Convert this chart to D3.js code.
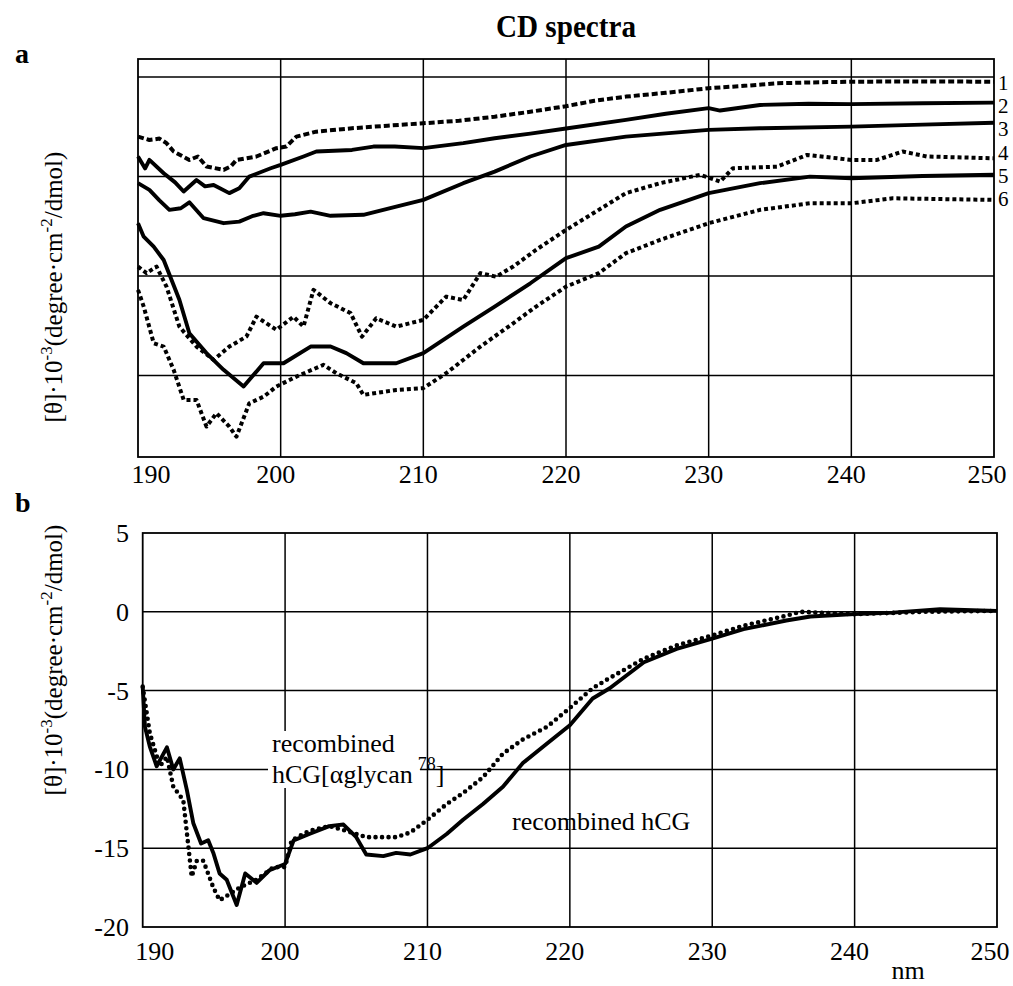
<!DOCTYPE html>
<html><head><meta charset="utf-8">
<script src="https://cdn.jsdelivr.net/npm/d3@7"></script>
<style>body{margin:0;background:#fff}svg{display:block}text{font-family:"Liberation Serif","Times New Roman",serif;fill:#000}</style>
</head><body><svg id="c" width="1013" height="986"></svg>
<script>
// ---------- DATA ----------
const xTicks = [190, 200, 210, 220, 230, 240, 250];
const gridA = [0, -5, -10, -15];
const yTicksB = [5, 0, -5, -10, -15, -20];
const curveLabels = ["1", "2", "3", "4", "5", "6"];

// panel a (offset spectra, arbitrary units)
const curve1 = [[190,-3.0],[190.8,-3.17],[191.5,-3.1],[192.0,-3.33],[192.5,-3.75],[193.6,-4.17],[194.2,-4.0],[194.8,-4.5],[196.0,-4.67],[196.5,-4.5],[196.9,-4.17],[198.3,-4.0],[199.7,-3.58],[200.4,-3.5],[201.1,-3.0],[202.5,-2.75],[205.0,-2.58],[207.5,-2.45],[210,-2.33],[212.5,-2.2],[215,-2.0],[217.5,-1.75],[220,-1.47],[222,-1.2],[224.2,-0.99],[227,-0.8],[230,-0.57],[232.5,-0.45],[234.8,-0.32],[237,-0.28],[240,-0.24],[245,-0.23],[250,-0.24]];
const curve2 = [[190,-4.0],[190.5,-4.6],[190.8,-4.17],[191.8,-4.84],[192.6,-5.3],[193.2,-5.76],[194.1,-5.18],[194.7,-5.5],[195.3,-5.43],[196.4,-5.84],[197.1,-5.6],[197.8,-5.01],[199.3,-4.59],[200,-4.42],[201.6,-4.0],[202.5,-3.75],[205,-3.67],[206.5,-3.5],[208,-3.5],[210,-3.58],[212.8,-3.33],[215,-3.08],[217.5,-2.85],[220,-2.59],[224.2,-2.16],[227,-1.85],[230,-1.57],[230.8,-1.69],[233.6,-1.41],[237,-1.35],[240,-1.37],[245,-1.32],[250,-1.29]];
const curve3 = [[190,-5.34],[190.8,-5.68],[191.5,-6.2],[192.2,-6.68],[193.0,-6.6],[193.6,-6.3],[194.6,-7.1],[196.0,-7.35],[197.1,-7.27],[198.0,-7.0],[198.8,-6.85],[200,-6.98],[201.0,-6.9],[202.1,-6.77],[203.5,-6.98],[205.8,-6.93],[208.1,-6.52],[210,-6.18],[212.8,-5.34],[215,-4.76],[217.5,-4.0],[220,-3.42],[224.2,-3.0],[230,-2.66],[233.6,-2.58],[240,-2.5],[245,-2.4],[250,-2.3]];
const curve4 = [[190,-9.53],[190.6,-9.86],[191.3,-9.53],[192.0,-10.54],[192.9,-12.55],[194.1,-13.55],[195.3,-14.22],[196.4,-13.55],[197.6,-13.05],[198.3,-12.05],[199.7,-12.71],[200.9,-12.05],[201.6,-12.55],[202.3,-10.7],[203.5,-11.37],[204.9,-11.87],[205.7,-13.05],[206.7,-12.13],[208.1,-12.55],[210,-12.21],[211.6,-11.04],[212.8,-11.21],[214.0,-9.86],[215.1,-10.04],[216.3,-9.53],[217.9,-8.69],[220,-7.69],[222.3,-6.68],[224.2,-5.84],[226.6,-5.34],[229.4,-4.92],[230.8,-5.26],[231.7,-4.59],[234.8,-4.51],[236.9,-3.92],[240,-4.17],[241.8,-4.17],[243.6,-3.75],[245.3,-4.0],[250,-4.09]];
const curve5 = [[190,-7.35],[190.4,-8.03],[191.1,-8.53],[191.8,-9.2],[192.9,-11.2],[193.6,-12.88],[194.8,-13.88],[196.0,-14.72],[197.4,-15.56],[198.8,-14.39],[200.2,-14.39],[202.1,-13.55],[203.5,-13.55],[204.6,-13.88],[205.8,-14.39],[208.1,-14.39],[210,-13.88],[212.8,-12.55],[215,-11.54],[217.5,-10.37],[220,-9.11],[222.3,-8.53],[224.2,-7.52],[226.6,-6.68],[230,-5.84],[233.6,-5.34],[237.1,-5.01],[240,-5.09],[245,-4.98],[250,-4.92]];
const curve6 = [[190,-10.7],[190.4,-11.54],[191.1,-13.38],[191.8,-13.55],[192.5,-14.72],[193.2,-16.23],[194.1,-16.23],[194.8,-17.57],[195.5,-16.9],[196.4,-17.57],[196.9,-18.08],[197.8,-16.4],[198.8,-16.07],[199.7,-15.56],[201.1,-15.06],[203.0,-14.47],[203.9,-14.89],[205.3,-15.39],[205.8,-15.98],[208.1,-15.73],[210,-15.64],[211.6,-14.89],[214.0,-13.55],[216.3,-12.38],[217.9,-11.54],[220,-10.54],[222.3,-9.86],[224.2,-8.86],[226.6,-8.19],[230,-7.35],[233.6,-6.68],[237.1,-6.35],[240,-6.35],[242.9,-6.1],[250,-6.18]];
const seriesA = [curve1, curve2, curve3, curve4, curve5, curve6];
const styleA = ["dash", "solid", "solid", "dot", "solid", "dot"];

// panel b
const hcg = [[190,-4.75],[190.16,-7.3],[190.5,-8.55],[190.98,-9.8],[191.7,-8.6],[192.15,-10.0],[192.6,-9.3],[193.1,-11.3],[193.55,-13.4],[194.1,-14.7],[194.6,-14.5],[194.96,-15.3],[195.4,-16.6],[195.9,-17.0],[196.6,-18.6],[197.2,-16.6],[198.0,-17.2],[198.9,-16.4],[200,-16.0],[200.6,-14.5],[201.7,-14.1],[203.1,-13.6],[204.1,-13.5],[205.0,-14.3],[205.7,-15.4],[206.9,-15.5],[207.8,-15.3],[208.8,-15.4],[210,-15.0],[211.35,-14.1],[212.5,-13.2],[213.9,-12.2],[215.3,-11.1],[216.7,-9.6],[218.4,-8.35],[220,-7.2],[221.6,-5.5],[222.8,-4.85],[225.2,-3.2],[227.5,-2.35],[230,-1.7],[232.2,-1.1],[235.2,-0.55],[236.9,-0.3],[240,-0.15],[242.7,-0.05],[246,0.17],[250,0.06]];
const hcgGlycan = [[190,-4.75],[190.5,-7.7],[191.2,-9.8],[191.7,-9.2],[192.15,-11.1],[192.85,-11.95],[193.44,-16.8],[193.8,-15.8],[194.26,-15.8],[194.96,-17.5],[195.4,-18.3],[196.13,-17.9],[196.8,-17.5],[198.0,-17.0],[199.2,-16.2],[200,-16.2],[200.46,-14.5],[201.7,-13.9],[203.1,-13.6],[204.3,-13.9],[205.7,-14.3],[206.9,-14.3],[207.8,-14.3],[208.8,-14.0],[210,-13.2],[211.35,-12.2],[212.5,-11.5],[213.9,-10.5],[215.3,-9.0],[216.7,-8.1],[218.4,-7.3],[220,-6.1],[221.6,-4.85],[222.8,-4.2],[225.2,-2.97],[227.5,-2.13],[230,-1.5],[232.2,-0.88],[235.2,-0.25],[236.2,0.0],[240,-0.15],[245,0.0],[250,0.06]];

// ---------- DRAW ----------
const svg = d3.select("#c");

svg.append("text").attr("x", 566).attr("y", 37).attr("text-anchor", "middle")
  .attr("font-size", 31).attr("font-weight", "bold").attr("textLength", 140)
  .attr("lengthAdjust", "spacingAndGlyphs").text("CD spectra");
svg.append("text").attr("x", 15).attr("y", 63).attr("font-size", 28).attr("font-weight", "bold").text("a");
svg.append("text").attr("x", 15).attr("y", 512).attr("font-size", 28).attr("font-weight", "bold").text("b");

function yTitle(cx, cy) {
  const t = svg.append("text").attr("transform", `translate(${cx},${cy}) rotate(-90)`)
    .attr("text-anchor", "middle").attr("font-size", 25);
  t.append("tspan").text("[θ]·10");
  t.append("tspan").attr("dy", -10).attr("font-size", 17).text("-3");
  t.append("tspan").attr("dy", 10).text("(degree·cm");
  t.append("tspan").attr("dy", -10).attr("font-size", 17).text("-2");
  t.append("tspan").attr("dy", 10).text("/dmol)");
}
function tickX(scale, d, firstShift) {
  if (d === xTicks[0]) return scale(d) + firstShift;
  if (d === xTicks[xTicks.length - 1]) return scale(d) - 7;
  return scale(d) - 5;
}

// ----- Panel a -----
const xA = d3.scaleLinear().domain([190, 250]).range([138, 994]);
const yA = d3.scaleLinear().domain([-19.1, 0.9]).range([457, 59]);
const gA = svg.append("g");
gA.selectAll("line.v").data(xTicks.slice(1, -1)).join("line")
  .attr("x1", d => xA(d)).attr("x2", d => xA(d)).attr("y1", yA(0.9)).attr("y2", yA(-19.1))
  .attr("stroke", "#000").attr("stroke-width", 1.5);
gA.selectAll("line.h").data(gridA).join("line")
  .attr("x1", xA(190)).attr("x2", xA(250)).attr("y1", d => yA(d)).attr("y2", d => yA(d))
  .attr("stroke", "#000").attr("stroke-width", 1.5);
gA.append("rect").attr("x", xA(190)).attr("y", yA(0.9)).attr("width", xA(250) - xA(190))
  .attr("height", yA(-19.1) - yA(0.9)).attr("fill", "none").attr("stroke", "#000").attr("stroke-width", 1.8);
gA.selectAll("text.xt").data(xTicks).join("text")
  .attr("x", d => tickX(xA, d, 13)).attr("y", 483).attr("text-anchor", "middle").attr("font-size", 26).text(d => d);

const lineA = d3.line().x(d => xA(d[0])).y(d => yA(d[1]));
seriesA.forEach((s, i) => {
  const st = styleA[i];
  gA.append("path").attr("d", lineA(s)).attr("fill", "none").attr("stroke", "#000")
    .attr("stroke-width", st === "solid" ? 3.9 : 4)
    .attr("stroke-linejoin", "round")
    .attr("stroke-dasharray", st === "dash" ? "6,3" : st === "dot" ? "4,3" : null);
});
// curve numbers: evenly stacked at the right edge, starting at curve 1's end
const labTop = yA(curve1[curve1.length - 1][1]) + 1;
gA.selectAll("text.lab").data(curveLabels).join("text")
  .attr("x", 998).attr("y", (d, i) => labTop + i * 23.3 + 7)
  .attr("font-size", 21).text(d => d);
yTitle(62, 287);

// ----- Panel b -----
const xB = d3.scaleLinear().domain([190, 250]).range([142.7, 997]);
const yB = d3.scaleLinear().domain([-20, 5]).range([927, 533]);
const gB = svg.append("g");
gB.selectAll("line.v").data(xTicks.slice(1, -1)).join("line")
  .attr("x1", d => xB(d)).attr("x2", d => xB(d)).attr("y1", yB(5)).attr("y2", yB(-20))
  .attr("stroke", "#000").attr("stroke-width", 1.5);
gB.selectAll("line.h").data(yTicksB.slice(1, -1)).join("line")
  .attr("x1", xB(190)).attr("x2", xB(250)).attr("y1", d => yB(d)).attr("y2", d => yB(d))
  .attr("stroke", "#000").attr("stroke-width", 1.5);
gB.append("rect").attr("x", xB(190)).attr("y", yB(5)).attr("width", xB(250) - xB(190))
  .attr("height", yB(-20) - yB(5)).attr("fill", "none").attr("stroke", "#000").attr("stroke-width", 1.8);
gB.selectAll("text.xt").data(xTicks).join("text")
  .attr("x", d => tickX(xB, d, 12)).attr("y", 960).attr("text-anchor", "middle").attr("font-size", 26).text(d => d);
gB.selectAll("text.yt").data(yTicksB).join("text")
  .attr("x", 129).attr("y", d => yB(d) + 9).attr("text-anchor", "end").attr("font-size", 26).text(d => d);
gB.append("text").attr("x", 908).attr("y", 979).attr("text-anchor", "middle").attr("font-size", 26).text("nm");

gB.append("rect").attr("x", 268).attr("y", 731).attr("width", 152).attr("height", 57).attr("fill", "#fff");

const lineB = d3.line().x(d => xB(d[0])).y(d => yB(d[1]));
gB.append("path").attr("d", lineB(hcgGlycan)).attr("fill", "none").attr("stroke", "#000")
  .attr("stroke-width", 4.6).attr("stroke-linecap", "round").attr("stroke-dasharray", "0,6.5");
gB.append("path").attr("d", lineB(hcg)).attr("fill", "none").attr("stroke", "#000")
  .attr("stroke-width", 3.9).attr("stroke-linejoin", "round");

gB.append("text").attr("x", 272).attr("y", 752).attr("font-size", 26).text("recombined");
const t2 = gB.append("text").attr("x", 272).attr("y", 783).attr("font-size", 26);
t2.append("tspan").text("hCG[αglycan");
t2.append("tspan").attr("dx", 5).attr("dy", -13).attr("font-size", 18).text("78");
t2.append("tspan").attr("dy", 13).text("]");
gB.append("text").attr("x", 512).attr("y", 830).attr("font-size", 26).text("recombined hCG");
yTitle(62, 660);
</script></body></html>
